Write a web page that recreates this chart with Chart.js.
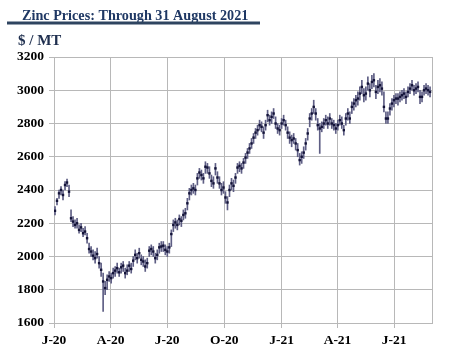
<!DOCTYPE html>
<html>
<head>
<meta charset="utf-8">
<script src="https://cdn.jsdelivr.net/npm/chart.js@4.4.0/dist/chart.umd.min.js"></script>
<style>
  body { margin: 0; background: #fff; }
  canvas { display: block; }
</style>
</head>
<body>
<canvas id="zincChart" width="458" height="359"></canvas>
<script>
const titleText = 'Zinc Prices: Through 31 August 2021';
const unitText = '$ / MT';

// quarter ticks, in days since 1 Jan 2020
const tickDays = [0, 91, 182, 274, 366, 456, 547];
const tickLabels = ['J-20', 'A-20', 'J-20', 'O-20', 'J-21', 'A-21', 'J-21'];
const lastDay = 608; // 31 Aug 2021

// samples roughly every 3.2 days from early Jan 2020
const firstDay = 1.6;
const stepDays = 3.226;

const closes = [
    2275, 2335, 2380, 2400, 2370, 2430, 2445, 2390, 2230, 2210, 2190, 2200, 2160, 2175, 2140, 2150,
    2110, 2045, 2030, 2005, 1990, 2015, 1960, 1920, 1850, 1810, 1860, 1880, 1870, 1900, 1915, 1930,
    1905, 1935, 1945, 1900, 1915, 1945, 1925, 1975, 2010, 1990, 2020, 1980, 1970, 1940, 1960, 2035,
    2045, 2030, 1990, 2010, 2055, 2060, 2065, 2040, 2030, 2055, 2135, 2190, 2205, 2190, 2225, 2215,
    2250, 2260, 2320, 2380, 2400, 2410, 2400, 2470, 2505, 2490, 2470, 2540, 2535, 2500, 2455, 2440,
    2530, 2475, 2440, 2400, 2415, 2355, 2325, 2400, 2440, 2425, 2475, 2535, 2545, 2530, 2565, 2595,
    2625, 2650, 2680, 2715, 2745, 2760, 2790, 2780, 2745, 2790, 2850, 2820, 2840, 2860, 2800, 2770,
    2760, 2800, 2820, 2790, 2745, 2715, 2700, 2710, 2680, 2640, 2580, 2600, 2625, 2680, 2740, 2830,
    2860, 2900, 2860, 2790, 2770, 2780, 2800, 2820, 2800, 2830, 2800, 2790, 2770, 2790, 2820, 2800,
    2760, 2830, 2860, 2830, 2900, 2920, 2940, 2950, 2980, 3020, 2970, 2980, 3040, 3000, 3050, 3060,
    2990, 3020, 3030, 3010, 2900, 2830, 2830, 2890, 2920, 2940, 2950, 2950, 2960, 2970, 2980, 2960,
    2990, 3010, 3030, 3000, 3010, 3020, 2960, 2960, 3000, 3010, 3000, 2990
];
const highs = [
    2300, 2350, 2400, 2420, 2400, 2450, 2465, 2430, 2280, 2240, 2220, 2230, 2190, 2200, 2170, 2180,
    2140, 2080, 2060, 2040, 2030, 2050, 2000, 1960, 1900, 1850, 1890, 1910, 1900, 1930, 1940, 1960,
    1930, 1960, 1970, 1930, 1950, 1970, 1960, 2000, 2040, 2020, 2050, 2010, 2000, 1980, 1990, 2060,
    2070, 2060, 2020, 2040, 2080, 2090, 2090, 2070, 2060, 2080, 2160, 2220, 2230, 2220, 2250, 2240,
    2280, 2290, 2350, 2410, 2430, 2440, 2430, 2500, 2530, 2520, 2500, 2570, 2560, 2540, 2490, 2480,
    2560, 2510, 2480, 2440, 2450, 2390, 2360, 2430, 2470, 2460, 2500, 2560, 2570, 2560, 2590, 2620,
    2650, 2680, 2710, 2740, 2770, 2790, 2820, 2810, 2780, 2820, 2880, 2850, 2870, 2890, 2840, 2800,
    2790, 2830, 2850, 2820, 2780, 2750, 2730, 2740, 2710, 2680, 2620, 2630, 2660, 2710, 2770, 2860,
    2890, 2940, 2890, 2830, 2800, 2810, 2830, 2850, 2840, 2860, 2830, 2820, 2800, 2820, 2850, 2840,
    2790, 2860, 2890, 2870, 2930, 2950, 2970, 2990, 3020, 3060, 3010, 3020, 3080, 3040, 3090, 3100,
    3030, 3060, 3070, 3050, 2990, 2870, 2870, 2920, 2950, 2970, 2980, 2980, 2990, 3000, 3010, 2990,
    3020, 3040, 3060, 3030, 3040, 3050, 3000, 2990, 3030, 3040, 3030, 3020
];
const lows = [
    2250, 2310, 2350, 2370, 2340, 2400, 2420, 2360, 2210, 2180, 2170, 2170, 2140, 2150, 2120, 2130,
    2080, 2020, 2000, 1980, 1960, 1990, 1930, 1880, 1670, 1770, 1800, 1850, 1840, 1870, 1880, 1900,
    1880, 1900, 1910, 1870, 1890, 1910, 1900, 1940, 1980, 1960, 1990, 1950, 1940, 1910, 1930, 2000,
    2010, 2000, 1960, 1980, 2020, 2030, 2030, 2010, 2000, 2020, 2060, 2150, 2170, 2160, 2190, 2180,
    2220, 2230, 2280, 2340, 2370, 2380, 2370, 2430, 2470, 2460, 2440, 2500, 2500, 2470, 2420, 2410,
    2490, 2440, 2410, 2370, 2380, 2320, 2280, 2360, 2400, 2390, 2440, 2500, 2510, 2500, 2530, 2560,
    2590, 2620, 2650, 2680, 2710, 2730, 2760, 2750, 2710, 2760, 2810, 2790, 2800, 2830, 2770, 2740,
    2730, 2770, 2790, 2760, 2710, 2680, 2660, 2680, 2640, 2600, 2550, 2560, 2590, 2640, 2700, 2780,
    2820, 2860, 2820, 2760, 2620, 2750, 2770, 2790, 2770, 2790, 2770, 2760, 2740, 2760, 2790, 2770,
    2730, 2790, 2820, 2800, 2860, 2880, 2900, 2910, 2940, 2980, 2930, 2940, 3000, 2960, 3010, 3020,
    2950, 2980, 2990, 2970, 2870, 2800, 2800, 2850, 2880, 2900, 2920, 2910, 2930, 2940, 2950, 2920,
    2960, 2980, 3000, 2970, 2980, 2990, 2920, 2930, 2970, 2980, 2970, 2960
];

const gridColor = '#b8b8b8';
const tickFont = { family: 'Liberation Serif', size: 13.5, weight: 'bold' };

const dayOf = i => firstDay + i * stepDays;

const ranges = closes.map((c, i) => ({ x: dayOf(i), y: [lows[i], highs[i]] }));
const closePoints = closes.map((c, i) => ({ x: dayOf(i), y: c }));

// title, rule and unit label above the plot
const headerPlugin = {
    id: 'header',
    afterDraw(chart) {
        const c = chart.ctx;
        c.save();
        c.textBaseline = 'alphabetic';
        c.textAlign = 'left';
        c.font = 'bold 14.2px "Liberation Serif"';
        c.fillStyle = '#1f3864';
        c.fillText(titleText, 22, 19.5);
        c.fillStyle = '#2e4460';
        c.fillRect(7, 21.5, 253, 3);
        c.font = 'bold 15px "Liberation Serif"';
        c.fillStyle = '#1f2f4f';
        c.fillText(unitText, 18, 44.5);
        c.restore();
    }
};

const ctx = document.getElementById('zincChart');

new Chart(ctx, {
    type: 'bar',
    data: {
        datasets: [{
            type: 'bar',
            data: ranges,
            backgroundColor: '#5e5e84',
            barThickness: 1,
            order: 2
        }, {
            type: 'scatter',
            data: closePoints,
            pointStyle: 'rect',
            pointRadius: 1.7,
            backgroundColor: '#131338',
            borderWidth: 0,
            order: 1
        }]
    },
    options: {
        responsive: false,
        animation: false,
        layout: {
            autoPadding: false,
            padding: { top: 57, right: 26, bottom: 0, left: 0 }
        },
        plugins: {
            legend: { display: false },
            tooltip: { enabled: false }
        },
        scales: {
            x: {
                type: 'linear',
                min: 0,
                max: lastDay,
                offset: false,
                afterBuildTicks: scale => {
                    scale.ticks = tickDays.concat([lastDay]).map(v => ({ value: v }));
                },
                afterFit: scale => { scale.height = 36; },
                grid: {
                    offset: false,
                    color: gridColor,
                    tickLength: 5,
                    tickColor: c => c.index === tickDays.length ? 'rgba(0,0,0,0)' : gridColor
                },
                border: { color: gridColor },
                ticks: {
                    autoSkip: false,
                    maxRotation: 0,
                    padding: 4,
                    color: '#000',
                    font: tickFont,
                    callback: (v, i) => tickLabels[i] || ''
                }
            },
            y: {
                min: 1600,
                max: 3200,
                afterFit: scale => { scale.width = 54; },
                grid: { color: gridColor, tickLength: 5 },
                border: { color: gridColor },
                ticks: {
                    stepSize: 200,
                    padding: 5,
                    color: '#000',
                    font: tickFont,
                    callback: v => String(v)
                }
            }
        }
    },
    plugins: [headerPlugin]
});
</script>
</body>
</html>
